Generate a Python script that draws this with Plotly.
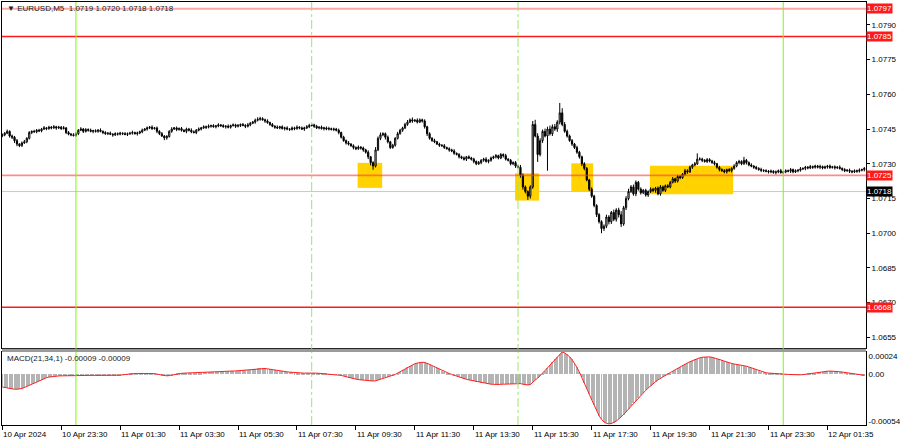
import plotly.graph_objects as go

# ---------------- data (price values in 1e-5 above 1.07000) ----------------
BASE = 1.07
first_open = 420
closes = [
    425, 432, 440, 420, 415, 400, 385, 378, 390, 395, 410,
    435, 440, 438, 445, 442,
    450, 455, 452, 458, 455, 460, 455, 458, 452, 455,
    435, 428, 425, 422, 430,
    445, 450, 440, 448, 445, 440, 443, 440, 445, 440,
    435, 430, 432, 428, 425, 430, 428, 432, 430, 427, 430, 432, 435, 430, 433, 438,
    445, 450, 455, 458, 452, 455,
    440, 430, 420, 412, 418, 440,
    450, 455, 448, 452, 445, 440, 450, 445, 438, 435, 445, 450,
    455, 460, 458, 462, 465, 460, 463, 468, 465, 460, 462, 458, 465, 468, 462, 465, 470, 466, 462, 468,
    475, 480, 488, 492, 495, 490, 485, 478, 470,
    462, 458, 455, 460,
    452, 455, 450, 448, 455, 452, 458, 455, 450, 455, 460,
    465, 468, 462,
    455, 458, 452, 455, 450, 452, 448, 450, 445,
    435, 415, 400, 390, 385,
    378, 370, 365, 372, 368, 360,
    350, 330, 305, 290,
    360, 410, 425, 430,
    415, 395, 370, 380,
    410, 430, 445, 455,
    470, 480, 490, 485, 488, 480, 490, 485,
    460, 430, 410, 400,
    395, 385, 380, 378, 370, 365, 360, 355,
    345, 340, 330, 325, 320, 330, 325, 320,
    310, 300, 305, 315, 320, 310, 315, 325,
    330, 335, 325, 340, 335, 320, 315,
    300, 305, 290, 285,
    250, 200, 180, 160, 200,
    470, 420, 340, 400, 440, 420, 450, 430, 460, 450, 480,
    520, 470, 440,
    420, 400, 385, 370, 350, 330, 300, 280,
    230, 190, 160, 120, 80, 50, 20, 30,
    70, 50, 90, 60, 100, 80,
    40, 110,
    150, 180, 200, 170, 220,
    190, 175, 185, 165, 180, 190,
    185, 195, 170, 200, 185, 205, 200,
    220, 235, 225, 245, 240,
    255, 270, 265, 285, 295, 300, 320,
    320, 315, 310, 318, 312, 305, 300,
    285, 275, 270, 265, 275, 270, 280, 290,
    305, 310, 300, 315, 305,
    295, 290, 285, 280, 275, 272,
    270, 268, 265, 268, 262, 265, 270, 262, 265,
    270, 268, 275, 265, 270, 272, 278,
    280, 285, 282, 288, 285, 290, 285, 288, 282, 286, 290, 284, 287, 283, 285, 280,
    275, 270, 272, 268, 265, 270, 268, 272, 275, 280,
]

upper_wick = [
    6, 5, 8, 4, 6, 5, 7, 4, 6, 8, 5, 6, 4, 7, 5, 6,
    5, 8, 4, 6, 5, 7, 4, 6, 5, 8, 4, 6, 5, 7, 6, 5,
    8, 4, 6, 5, 7, 4, 6, 5, 8, 4, 6, 5, 7, 4, 6, 5,
    6, 4, 7, 5, 6, 8, 4, 6, 5, 7, 4, 6, 5, 8, 4, 6,
    5, 7, 4, 6, 5, 8, 4, 6, 5, 7, 4, 6, 5, 8, 6, 5,
    7, 4, 6, 5, 8, 4, 6, 5, 7, 4, 6, 5, 8, 4, 6, 5,
    7, 4, 6, 5, 8, 6, 5, 7, 9, 8, 6, 5, 7, 4, 6, 5,
    8, 4, 6, 5, 7, 4, 6, 5, 8, 4, 6, 5, 7, 8, 6, 5,
    6, 4, 7, 5, 6, 8, 4, 6, 5, 7, 4, 6, 5, 8, 4, 6,
    5, 7, 4, 6, 5, 8, 4, 6, 12, 8, 10, 6, 5, 7, 4, 6,
    5, 8, 6, 5, 7, 9, 6, 10, 5, 8, 6, 5, 7, 4, 6, 5,
    8, 4, 6, 5, 7, 4, 6, 5, 8, 4, 6, 5, 7, 4, 6, 5,
    6, 4, 7, 5, 6, 8, 4, 6, 5, 7, 4, 6, 5, 8, 4, 6,
    5, 7, 4, 10, 8, 6, 5, 7, 15, 20, 12, 10, 8, 12, 10, 15,
    10, 12, 8, 43, 20, 10, 8, 6, 7, 5, 8, 6, 5, 7, 6, 5,
    8, 6, 5, 7, 6, 8, 10, 8, 6, 12, 8, 10, 15, 8, 10, 12,
    8, 10, 8, 6, 8, 6, 7, 5, 8, 6, 5, 7, 8, 6, 5, 7,
    6, 8, 5, 7, 6, 5, 8, 6, 7, 5, 8, 25, 8, 6, 5, 7,
    6, 5, 8, 4, 6, 5, 7, 4, 6, 5, 8, 6, 7, 5, 15, 6,
    5, 7, 4, 6, 5, 8, 4, 6, 5, 7, 4, 6, 5, 8, 4, 6,
    5, 7, 4, 6, 5, 8, 4, 6, 5, 7, 4, 6, 5, 8, 4, 6,
    5, 7, 4, 6, 5, 8, 4, 6, 5, 7, 4, 6, 5, 8, 4, 6,
]

lower_wick = [
    5, 6, 4, 7, 8, 10, 9, 6, 5, 4, 6, 5, 7, 4, 6, 5,
    6, 4, 7, 5, 6, 4, 8, 5, 6, 4, 7, 5, 6, 4, 5, 6,
    4, 7, 5, 6, 4, 8, 5, 6, 4, 7, 5, 6, 4, 8, 5, 6,
    5, 6, 4, 7, 5, 6, 4, 8, 5, 6, 4, 7, 5, 6, 4, 8,
    6, 4, 10, 8, 5, 6, 4, 7, 5, 6, 4, 8, 5, 6, 4, 7,
    5, 6, 4, 8, 5, 6, 4, 7, 5, 6, 4, 8, 5, 6, 4, 7,
    5, 6, 4, 8, 5, 6, 4, 7, 5, 6, 4, 8, 5, 6, 4, 7,
    5, 6, 4, 8, 5, 6, 4, 7, 5, 6, 4, 8, 5, 6, 4, 7,
    5, 6, 4, 8, 5, 6, 4, 7, 5, 8, 6, 5, 7, 6, 5, 8,
    6, 5, 7, 8, 6, 10, 12, 16, 6, 5, 8, 6, 10, 7, 6, 5,
    6, 5, 4, 7, 5, 6, 4, 8, 5, 6, 4, 7, 8, 10, 6, 5,
    6, 4, 7, 5, 6, 4, 8, 5, 6, 4, 7, 5, 6, 8, 5, 6,
    8, 6, 5, 7, 6, 5, 8, 6, 5, 7, 6, 5, 8, 6, 5, 7,
    6, 8, 5, 10, 12, 8, 16, 10, 8, 6, 32, 8, 10, 6, 150, 8,
    10, 8, 12, 10, 8, 6, 7, 5, 8, 6, 7, 8, 10, 8, 6, 8,
    7, 8, 10, 8, 20, 10, 8, 12, 10, 8, 10, 12, 13, 8, 10, 8,
    6, 8, 10, 6, 8, 6, 7, 8, 6, 8, 10, 6, 8, 6, 7, 5,
    6, 5, 8, 6, 7, 5, 6, 8, 5, 7, 6, 5, 6, 8, 5, 7,
    6, 5, 7, 6, 8, 5, 6, 7, 5, 8, 6, 5, 7, 6, 5, 8,
    6, 5, 7, 6, 5, 8, 6, 5, 7, 6, 5, 8, 6, 5, 7, 6,
    5, 8, 6, 5, 7, 6, 5, 8, 6, 5, 7, 6, 5, 8, 6, 5,
    7, 6, 5, 8, 6, 5, 7, 6, 5, 8, 6, 5, 7, 6, 5, 8,
]

# MACD(21,34,1) main value in 1e-6 units (signal equals main with period 1)
macd_vals = [
    -134, -140, -145, -150, -155, -158, -158, -155, -150, -140, -128,
    -115, -100, -88, -77, -65, -55, -45, -35, -28, -23,
    -20, -18, -16, -15, -14, -14, -15, -16, -15, -14, -12, -10, -9, -8, -8, -8, -9, -10, -10, -10,
    -10, -10, -12, -14, -15, -14, -12, -8, -4, 0, 3, 5, 8, 10, 11, 12,
    13, 14, 13, 12, 10, 8,
    4, 0, -6, -12, -15, -12, -6, 0,
    5, 10, 12, 14, 15, 16, 15, 14, 15, 18, 20, 22, 24, 25, 26, 28, 30, 30, 31, 30,
    30, 32, 34, 36, 38, 40, 42, 44, 46, 48, 52, 56, 60, 64, 66, 66, 64, 60, 55, 50,
    46, 42, 38, 34, 30, 28, 25, 22, 20, 18, 16, 15, 14, 15, 16, 17, 16, 14, 12, 10,
    8, 6, 4, 2, 0, -2, -5, -10, -18, -26, -34, -40, -46, -50, -55, -58, -60, -64, -68, -70,
    -70, -68, -60, -50, -40, -30, -24, -18, -10, 0,
    15, 30, 45, 62, 78, 92, 105, 115, 122, 128,
    130, 128, 120, 108, 95, 82, 68, 55, 42, 30,
    20, 10, 0, -10, -20, -28, -36, -44, -52, -58,
    -64, -70, -76, -82, -88, -92, -96, -100, -104, -106,
    -108, -108, -106, -104, -102, -100, -98, -98, -96, -95,
    -98, -104, -110, -112, -108, -80, -60, -40, -15, 10,
    40, 70, 100, 130, 160, 190, 215,
    240, 232, 215, 190, 160, 120, 75, 25, -30, -90,
    -150, -210, -270, -330, -390, -440, -480, -508, -522, -528,
    -525, -515, -498, -478, -455, -430, -400, -370, -340, -310,
    -280, -250, -222, -195, -170, -145, -120, -98, -78, -58,
    -40, -24, -10,
    5, 20, 36, 52, 68, 84, 98, 112, 124, 136, 148, 160, 170, 178, 184, 188, 190, 188, 184, 178,
    170, 162, 152, 142, 132, 124, 118, 112, 108, 104, 100, 95, 88, 80, 70, 60, 50, 40, 30, 22,
    18, 15, 12, 10, 8, 6, 5, 4, 2, 0, -2, -4, -5, -5, -4, -2, 2, 6, 10, 15,
    20, 24, 28, 31, 33, 35, 36, 36, 35, 33, 30, 26, 22, 17, 12, 7, 3, -1, -4, -7, -9,
]

tick_bars = [0, 24, 48, 72, 96, 120, 144, 168, 192, 216, 240, 264, 288, 312, 336]
tick_labels = ["10 Apr 2024", "10 Apr 23:30", "11 Apr 01:30", "11 Apr 03:30", "11 Apr 05:30",
               "11 Apr 07:30", "11 Apr 09:30", "11 Apr 11:30", "11 Apr 13:30", "11 Apr 15:30",
               "11 Apr 17:30", "11 Apr 19:30", "11 Apr 21:30", "11 Apr 23:30", "12 Apr 01:35"]

price_ticks = [1.0790, 1.0775, 1.0760, 1.0745, 1.0730, 1.0715, 1.0700, 1.0685, 1.0670, 1.0655]
levels_red = [1.0797, 1.0785, 1.0725, 1.0668]
bid_level = 1.0718
day_lines = [30, 318]
session_lines = [126, 210]
# yellow zones: (bar start, bar end, price low, price high)
zones = [(144.7, 154.7, 1.07196, 1.07304),
         (208.8, 218.6, 1.07141, 1.07259),
         (231.7, 240.6, 1.07180, 1.07302),
         (263.7, 297.6, 1.07168, 1.07291)]
header = "▼ EURUSD,M5  1.0719 1.0720 1.0718 1.0718"
macd_label = "MACD(21,34,1) -0.00009 -0.00009"

# ---------------- build ----------------
n = len(closes)
x = list(range(n))
opens = [first_open] + closes[:-1]
o = [BASE + v * 1e-5 for v in opens]
c = [BASE + v * 1e-5 for v in closes]
h = [BASE + (max(a, b) + w) * 1e-5 for a, b, w in zip(opens, closes, upper_wick)]
l = [BASE + (min(a, b) - w) * 1e-5 for a, b, w in zip(opens, closes, lower_wick)]
macd = [v * 1e-6 for v in macd_vals]

FONT = "Liberation Sans, Arial, sans-serif"
fig = go.Figure()

fig.add_trace(go.Candlestick(
    x=x, open=o, high=h, low=l, close=c,
    increasing=dict(line=dict(color="black", width=1), fillcolor="white"),
    decreasing=dict(line=dict(color="black", width=1), fillcolor="black"),
    whiskerwidth=0, xaxis="x", yaxis="y", showlegend=False, hoverinfo="skip"))

fig.add_trace(go.Bar(x=x, y=macd, marker=dict(color="#B4B4B4", line=dict(width=0)),
                     width=0.4, xaxis="x2", yaxis="y2", showlegend=False, hoverinfo="skip"))
fig.add_trace(go.Scatter(x=x, y=macd, mode="lines", line=dict(color="#FF2020", width=1),
                         xaxis="x2", yaxis="y2", showlegend=False, hoverinfo="skip"))

r0 = -0.1
r1 = r0 + 864 / 2.456
MAIN_BOTTOM = 77 / 423
MACD_TOP = 73 / 423

shapes = []
for (a, b, lo, hi) in zones:
    shapes.append(dict(type="rect", xref="x", yref="y", x0=a, x1=b, y0=lo, y1=hi,
                       fillcolor="#FFD200", line=dict(width=0), layer="below"))
shapes.append(dict(type="line", xref="paper", yref="y", x0=0, x1=1, y0=bid_level, y1=bid_level,
                   line=dict(color="#C8C8C8", width=1), layer="below"))
lvl_style = {1.0797: ("rgba(255,60,60,0.45)", 2), 1.0785: ("#FF1A1A", 1.6),
             1.0725: ("rgba(255,60,60,0.6)", 1.6), 1.0668: ("#FF1A1A", 1.6)}
for lv in levels_red:
    col, w = lvl_style[lv]
    shapes.append(dict(type="line", xref="paper", yref="y", x0=0, x1=1, y0=lv, y1=lv,
                       line=dict(color=col, width=w)))
for b in day_lines:
    shapes.append(dict(type="line", xref="x", yref="paper", x0=b, x1=b, y0=0, y1=1,
                       line=dict(color="#7CFC00", width=1)))
for b in session_lines:
    shapes.append(dict(type="line", xref="x", yref="paper", x0=b, x1=b, y0=0, y1=1,
                       line=dict(color="#9AE66E", width=1, dash="dashdot")))
# separator band between panels
shapes.append(dict(type="rect", xref="paper", yref="paper", x0=0, x1=1,
                   y0=MACD_TOP, y1=MAIN_BOTTOM - 0.002,
                   fillcolor="#9A9A9A", line=dict(width=0)))

annotations = []
annotations.append(dict(xref="paper", yref="paper", x=0, y=1, xanchor="left", yanchor="middle",
                        xshift=3, yshift=-6, text=header, showarrow=False,
                        font=dict(family=FONT, size=8, color="#202020")))
annotations.append(dict(xref="paper", yref="paper", x=0, y=MACD_TOP, xanchor="left", yanchor="middle",
                        xshift=3, yshift=-6, text=macd_label, showarrow=False,
                        font=dict(family=FONT, size=8, color="#202020")))
for b, t in zip(tick_bars, tick_labels):
    annotations.append(dict(xref="x2", yref="paper", x=b, y=0, xanchor="left", yanchor="top",
                            xshift=-1, yshift=-3, text=t, showarrow=False,
                            font=dict(family=FONT, size=8, color="black")))
for lv in levels_red:
    annotations.append(dict(xref="paper", yref="y", x=1, y=lv, xanchor="left", yanchor="middle",
                            xshift=0, text="%.4f" % lv, showarrow=False, bgcolor="#FF1A1A",
                            borderpad=0, font=dict(family=FONT, size=8, color="white")))
annotations.append(dict(xref="paper", yref="y", x=1, y=bid_level, xanchor="left", yanchor="middle",
                        xshift=0, text="%.4f" % bid_level, showarrow=False, bgcolor="black",
                        borderpad=0, font=dict(family=FONT, size=8, color="white")))

axis_common = dict(showgrid=False, zeroline=False, showline=True, linecolor="black",
                   linewidth=1, mirror=True, automargin=False)

fig.update_layout(
    width=900, height=441,
    margin=dict(l=2, r=34, t=2, b=16, autoexpand=False),
    paper_bgcolor="white", plot_bgcolor="white",
    bargap=0,
    xaxis=dict(domain=[0, 1], anchor="y", range=[r0, r1], showticklabels=False,
               rangeslider=dict(visible=False), ticks="", **axis_common),
    yaxis=dict(domain=[MAIN_BOTTOM, 1], anchor="x", side="right", range=[1.06504, 1.07999],
               tickvals=price_ticks, ticktext=["%.4f" % v for v in price_ticks],
               ticks="outside", ticklen=3, tickcolor="black",
               tickfont=dict(family=FONT, size=8, color="black"), **axis_common),
    xaxis2=dict(domain=[0, 1], anchor="y2", range=[r0, r1], matches="x",
                tickvals=tick_bars, showticklabels=False, ticks="outside", ticklen=4,
                tickcolor="black", **axis_common),
    yaxis2=dict(domain=[0, MACD_TOP], anchor="x2", side="right", range=[-0.00054, 0.00024],
                tickvals=[0.000197, 0.0, -0.000497], ticktext=["0.00024", "0.00", "-0.00054"],
                ticks="", tickfont=dict(family=FONT, size=8, color="black"), **axis_common),
    shapes=shapes,
    annotations=annotations,
)

fig.write_html("out.html", config={"displayModeBar": False},
               post_script="document.body.style.margin='0px';document.body.style.overflow='hidden';")
